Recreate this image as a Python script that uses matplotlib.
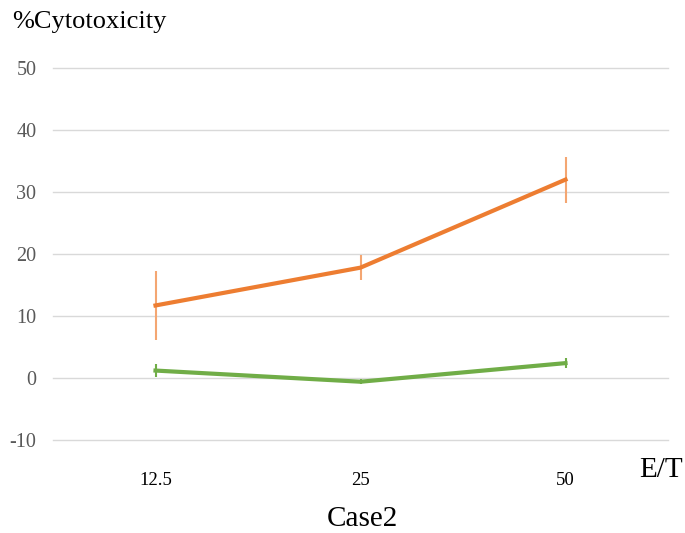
import matplotlib
matplotlib.use("Agg")
import matplotlib.pyplot as plt

# data
ratios = ["12.5", "25", "50"]
orange_vals = [11.7, 17.8, 32.0]
orange_err = [5.5, 2.0, 3.7]
green_vals = [1.2, -0.6, 2.4]
green_err = [1.1, 0.4, 0.8]
yticks = [-10, 0, 10, 20, 30, 40, 50]

plt.rcParams['font.family'] = ['Liberation Serif', 'DejaVu Serif']
plt.rcParams['axes.unicode_minus'] = False

fig = plt.figure(figsize=(6.85, 5.33), dpi=100)
ax = fig.add_axes([53/685, 1-440/533, 615/685, 372/533])

x = list(range(len(ratios)))
ax.errorbar(x, orange_vals, yerr=orange_err, color="#ED7D31", lw=3,
            ecolor="#F4A672", elinewidth=1.5, capsize=0, zorder=3)
ax.errorbar(x, green_vals, yerr=green_err, color="#70AD47", lw=3,
            ecolor="#70AD47", elinewidth=1.5, capsize=0, zorder=3)

ax.set_xlim(-0.5, 2.5)
ax.set_ylim(-10, 50)
ax.set_yticks(yticks)
ax.set_xticks(x)
ax.set_xticklabels(ratios)
ax.grid(axis="y", color="#D9D9D9", lw=1)
for gl in ax.get_ygridlines():
    gl.set_clip_on(False)
ax.set_axisbelow(True)
for s in ax.spines.values():
    s.set_visible(False)
ax.tick_params(axis="y", length=0, pad=12, labelsize=14.5, labelcolor="#595959")
ax.tick_params(axis="x", length=0, pad=23, labelsize=13.5, labelcolor="#000000")

fig.text(12/685, 1-22/533, "%Cytotoxicity", fontsize=19, va="center", ha="left")
fig.text(639/685, 1-470/533, "E/T", fontsize=21, va="center", ha="left")
fig.text(362/685, 1-519/533, "Case2", fontsize=21, va="center", ha="center")

fig.savefig("out.png", dpi=100)
